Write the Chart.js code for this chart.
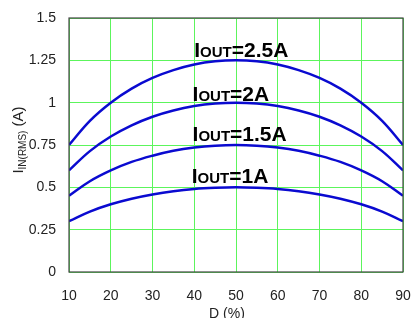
<!DOCTYPE html>
<html><head><meta charset="utf-8">
<script src="https://cdn.jsdelivr.net/npm/chart.js@4"></script>
<style>html,body{margin:0;padding:0;background:#fff;}#wrap{width:411px;height:318px;}</style>
</head><body><div id="wrap"><canvas id="c" width="411" height="318"></canvas></div>
<script>
const dutyPct = [10,15,20,25,30,35,40,45,50,55,60,65,70,75,80,85,90];
const iout1A   = [0.300,0.357,0.400,0.433,0.458,0.477,0.490,0.497,0.500,0.497,0.490,0.477,0.458,0.433,0.400,0.357,0.300];
const iout15A  = [0.450,0.536,0.600,0.650,0.687,0.716,0.735,0.746,0.750,0.746,0.735,0.716,0.687,0.650,0.600,0.536,0.450];
const iout2A   = [0.600,0.714,0.800,0.866,0.917,0.954,0.980,0.995,1.000,0.995,0.980,0.954,0.917,0.866,0.800,0.714,0.600];
const iout25A  = [0.750,0.893,1.000,1.083,1.146,1.192,1.225,1.244,1.250,1.244,1.225,1.192,1.146,1.083,1.000,0.893,0.750];
const seriesLabels = ["=2.5A","=2A","=1.5A","=1A"];
const labelD = [40.0,39.6,39.6,39.4];
const labelI = [1.270,1.010,0.774,0.526];
const xTicks = [10,20,30,40,50,60,70,80,90];
const yTicks = [0,0.25,0.5,0.75,1,1.25,1.5];

const FONT = "'Liberation Sans', Arial, sans-serif";
const BLUE = '#0a0ad0';
function ds(data){return {data:data.map((v,i)=>({x:dutyPct[i],y:v})),borderColor:BLUE,borderWidth:2.5,pointRadius:0,tension:0.4,fill:false};}

const overlay = {
  id:'overlay',
  afterDatasetsDraw(chart){
    const ctx=chart.ctx, xs=chart.scales.x, ys=chart.scales.y;
    ctx.save();
    ctx.fillStyle='#000';
    ctx.textBaseline='alphabetic';
    ctx.textAlign='left';
    for(let i=0;i<seriesLabels.length;i++){
      let px=xs.getPixelForValue(labelD[i]), py=ys.getPixelForValue(labelI[i]);
      ctx.font='bold 21px '+FONT; ctx.fillText('I',px,py); px+=ctx.measureText('I').width;
      ctx.font='bold 15px '+FONT; ctx.fillText('OUT',px,py); px+=ctx.measureText('OUT').width;
      ctx.font='bold 21px '+FONT; ctx.fillText(seriesLabels[i],px,py);
    }
    ctx.fillStyle='#222';
    ctx.font='14px '+FONT; ctx.textAlign='center'; ctx.textBaseline='top';
    ctx.fillText('D (%)',227,307);
    ctx.save();
    ctx.translate(23,140); ctx.rotate(-Math.PI/2);
    ctx.textAlign='left'; ctx.textBaseline='alphabetic';
    const parts=[['I','15px',0],['IN(RMS)','10px',3],[' (A)','15px',0]];
    let w=0; for(const p of parts){ctx.font=p[1]+' '+FONT; w+=ctx.measureText(p[0]).width;}
    let x=-w/2;
    for(const p of parts){ctx.font=p[1]+' '+FONT; ctx.fillText(p[0],x,p[2]); x+=ctx.measureText(p[0]).width;}
    ctx.restore();
    const a=chart.chartArea;
    ctx.strokeStyle='#444'; ctx.lineWidth=1.2;
    ctx.strokeRect(a.left,a.top,a.right-a.left,a.bottom-a.top);
    ctx.restore();
  }
};

new Chart(document.getElementById('c'),{
  type:'line',
  data:{datasets:[ds(iout25A),ds(iout2A),ds(iout15A),ds(iout1A)]},
  options:{
    responsive:false,animation:false,
    plugins:{legend:{display:false},tooltip:{enabled:false}},
    layout:{padding:{left:0,right:8,top:18,bottom:0}},
    scales:{
      x:{type:'linear',min:10,max:90,
        afterBuildTicks(s){s.ticks=xTicks.map(v=>({value:v}));},
        afterFit(s){s.height=46;s.paddingLeft=0;s.paddingRight=0;},
        grid:{color:'#5cf55c',lineWidth:1,drawTicks:false},
        border:{display:false},
        ticks:{padding:16,color:'#222',font:{family:FONT,size:14},maxRotation:0}},
      y:{type:'linear',min:0,max:1.5,
        afterBuildTicks(s){s.ticks=yTicks.map(v=>({value:v}));},
        afterFit(s){s.width=69;s.paddingTop=0;s.paddingBottom=0;},
        grid:{color:'#5cf55c',lineWidth:1,drawTicks:false},
        border:{display:false},
        ticks:{padding:13,color:'#222',font:{family:FONT,size:14},callback:v=>String(v)}}
    }
  },
  plugins:[overlay]
});
</script></body></html>
